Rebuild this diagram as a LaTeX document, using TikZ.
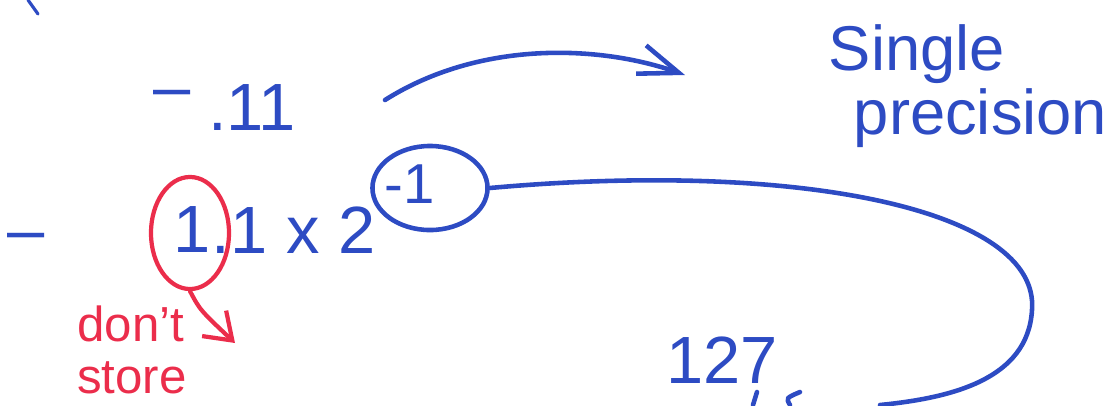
\documentclass[tikz,border=0pt]{standalone}
\usepackage{fontspec}
\setmainfont{Liberation Sans}
\usepackage{tikz}
\usetikzlibrary{positioning,arrows.meta,shapes.geometric}
\definecolor{pen}{RGB}{45,75,195}
\definecolor{redpen}{RGB}{235,45,75}
\begin{document}
\begin{tikzpicture}[x=0.01cm, y=-0.01cm,
  hand/.style={text=pen, inner sep=0pt, font=\fontsize{19}{21}\selectfont},
  redhand/.style={text=redpen, inner sep=0pt, align=left, font=\fontsize{14}{15}\selectfont},
  ink/.style={draw=pen, line width=1.3pt, line cap=round},
  redink/.style={draw=redpen, line width=1.2pt, line cap=round},
  ring/.style={ellipse, draw=pen, line width=1.3pt, inner sep=0pt},
  redring/.style={ellipse, draw=redpen, line width=1.2pt, inner sep=0pt},
  barb/.style={-{Straight Barb[length=4mm, width=3mm]}}]
\useasboundingbox (0,0) rectangle (1111,405);
% first line
\node[hand] (neg1) at (172,100) {--};
\node[hand] (frac) at (252,108) {.11};
\coordinate (arrS) at (385,100);
\coordinate (arrE) at (685,75);
\draw[ink, barb] (arrS) .. controls (480,40) and (600,45) .. (arrE);
\node[hand, align=left, font=\fontsize{18}{20}\selectfont] (prec) at (968,86) {Single\\[-2pt]\hspace*{2.5mm}precision};
% second line
\node[hand] (neg2) at (26,243) {--};
\node[hand] (one) at (192,230) {1};
\node[hand, right=0pt of one] (rest) {.1 x 2};
\node[hand, font=\fontsize{16}{18}\selectfont] (expo) at (410,184) {-1};
\node[redring, minimum width=0.78cm, minimum height=1.12cm] (rring) at (190,233) {};
\node[ring, minimum width=1.15cm, minimum height=0.84cm] (ering) at (430,188) {};
% note in red
\node[redhand] (dont) at (132,350) {don't\\store};
\coordinate (tip) at (235,343);
\draw[redink, -{Straight Barb[length=2.5mm, width=3.5mm]}] (rring.south) .. controls (200,310) .. (tip);
% loop to the exponent value
\coordinate (bot) at (880,405);
\draw[ink] (ering.east) .. controls (800,160) and (1040,210) .. (1032,310)
  .. controls (1028,380) and (950,398) .. (bot);
\node[hand] (bias) at (722,360) {127};
% cut-off strokes at the edges
\draw[ink, line width=0.9pt] (28,0) -- (38,14);
\draw[ink] (757,392) -- (753,405);
\draw[ink] (800,392) .. controls (786,398) .. (790,405);
\end{tikzpicture}
\end{document}
